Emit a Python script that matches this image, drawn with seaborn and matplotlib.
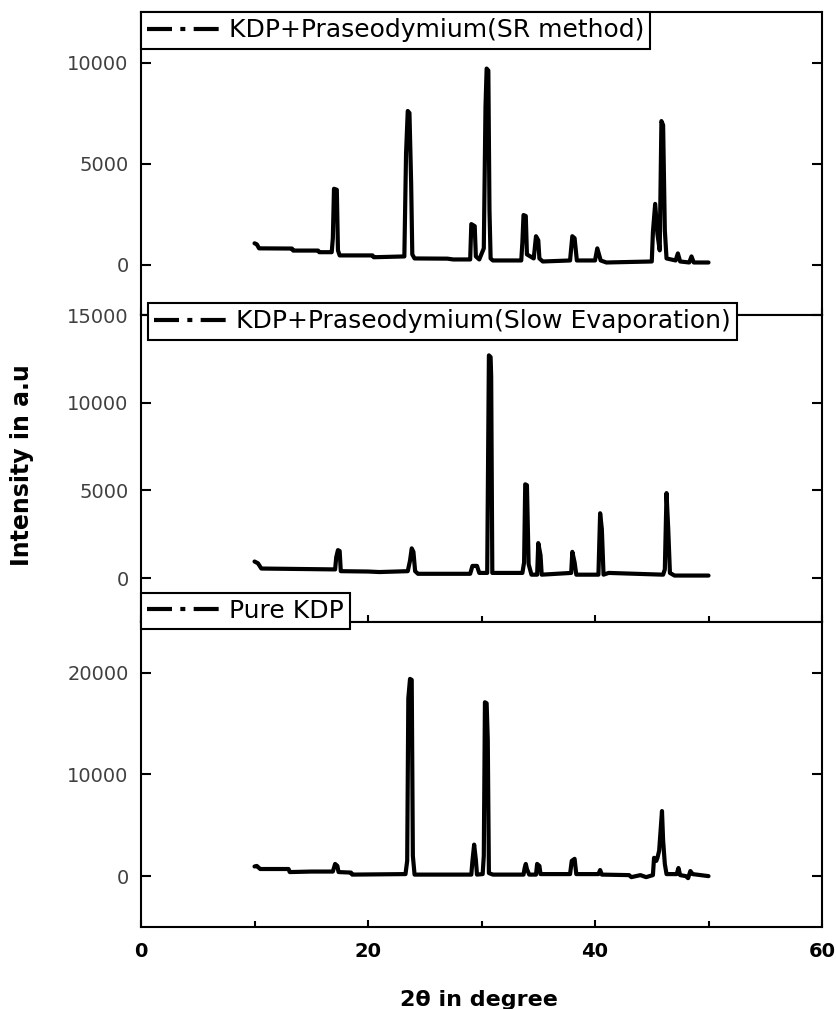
import matplotlib.pyplot as plt
import seaborn as sns
from matplotlib.lines import Line2D
from matplotlib.ticker import MultipleLocator

# --- XRD patterns (2theta in degree, intensity in a.u) ---
sr_theta = [10.0, 10.2, 10.4, 13.3, 13.4, 15.6, 15.7, 16.8, 16.9, 17.0, 17.25,
            17.35, 17.5, 20.4, 20.5, 23.2, 23.35, 23.5, 23.65, 23.8, 23.9, 24.1,
            27.0, 27.5, 29.0, 29.1, 29.4, 29.5, 29.8, 30.2, 30.35, 30.45, 30.6,
            30.7, 30.8, 31.0, 33.5, 33.6, 33.7, 33.9, 34.0, 34.6, 34.8, 35.0,
            35.1, 35.4, 37.8, 38.0, 38.2, 38.4, 40.0, 40.2, 40.5, 41.0, 45.0,
            45.1, 45.3, 45.5, 45.7, 45.85, 46.0, 46.15, 46.3, 47.1, 47.3, 47.5,
            48.3, 48.5, 48.7, 50.0]
sr_int = [1050, 1000, 800, 790, 690, 690, 610, 610, 1300, 3750, 3700,
          700, 450, 450, 360, 400, 5500, 7600, 7500, 4000, 500, 300,
          290, 250, 250, 2000, 1900, 400, 250, 800, 7800, 9700, 9600,
          2700, 300, 200, 200, 1100, 2450, 2400, 500, 300, 1400, 1200,
          300, 150, 200, 1400, 1300, 200, 200, 800, 200, 100, 150,
          1600, 3000, 1500, 700, 7100, 6900, 1700, 300, 200, 550, 150,
          100, 400, 100, 100]

se_theta = [10.0, 10.3, 10.6, 17.1, 17.2, 17.35, 17.5, 17.6, 20.0, 21.0, 23.5,
            23.7, 23.85, 24.0, 24.15, 24.4, 29.0, 29.2, 29.6, 29.8, 30.5, 30.65,
            30.8, 30.85, 30.95, 33.6, 33.75, 33.85, 34.0, 34.15, 34.4, 34.9, 35.0,
            35.2, 35.3, 37.9, 38.0, 38.2, 38.35, 40.3, 40.45, 40.6, 40.75, 41.2,
            46.0, 46.15, 46.3, 46.45, 46.6, 47.0, 50.0]
se_int = [950, 850, 550, 500, 1200, 1600, 1550, 400, 380, 350, 400,
          1000, 1700, 1500, 400, 250, 250, 700, 700, 300, 300, 12700,
          12600, 11500, 300, 300, 900, 5350, 5300, 800, 200, 200, 2000,
          1300, 200, 300, 1500, 900, 200, 200, 3700, 2800, 200, 300,
          200, 500, 4850, 2800, 300, 150, 150]

kdp_theta = [10.0, 10.2, 10.5, 13.0, 13.1, 15.0, 16.9, 17.1, 17.3, 17.4, 18.5,
             18.6, 23.3, 23.45, 23.55, 23.7, 23.85, 23.95, 24.1, 29.1, 29.2,
             29.35, 29.5, 29.6, 30.1, 30.2, 30.3, 30.45, 30.55, 30.65, 31.0,
             33.7, 33.8, 33.9, 34.0, 34.2, 34.8, 34.9, 35.1, 35.2, 37.8, 37.95,
             38.2, 38.35, 40.3, 40.45, 40.6, 43.0, 43.2, 44.0, 44.5, 45.1, 45.2,
             45.4, 45.5, 45.65, 45.9, 46.0, 46.15, 46.3, 47.2, 47.35, 47.5, 48.0,
             48.2, 48.4, 48.6, 50.0]
kdp_int = [950, 1000, 700, 700, 400, 450, 450, 1200, 1000, 400, 350,
           150, 200, 1500, 17500, 19400, 19300, 2000, 150, 150, 1500,
           3100, 1600, 150, 200, 2000, 17100, 17000, 13400, 300, 150,
           150, 800, 1200, 700, 150, 150, 1200, 1000, 200, 200, 1500,
           1700, 200, 200, 600, 150, 100, -100, 100, -100, 100, 1800,
           1500, 1800, 2500, 6400, 3500, 1200, 200, 200, 800, 100, 0,
           -200, 500, 200, 0]

labels = ["KDP+Praseodymium(SR method)",
          "KDP+Praseodymium(Slow Evaporation)",
          "Pure KDP"]
x_ticks = [0, 20, 40, 60]
y_ticks = [[0, 5000, 10000], [0, 5000, 10000, 15000], [0, 10000, 20000]]
y_limits = [(-2500, 12500), (-2500, 15000), (-5000, 25000)]


def create_plot() -> None:
    sns.set_style("ticks")
    plt.rcParams["font.family"] = ["DejaVu Sans"]
    plt.rcParams["text.color"] = "black"

    fig = plt.figure(figsize=(8.37, 10.09), dpi=100)

    # three stacked panels, no gap between them
    rects = [
        [0.1685, 0.6878, 0.8136, 0.3003],
        [0.1685, 0.3835, 0.8136, 0.3043],
        [0.1685, 0.0813, 0.8136, 0.3023],
    ]
    # legend anchor (upper left corner) in axes coordinates
    anchors = [(0.0, 1.0), (0.0103, 1.039), (0.0, 1.095)]
    series = [(sr_theta, sr_int), (se_theta, se_int), (kdp_theta, kdp_int)]

    for i, (rect, (xs, ys)) in enumerate(zip(rects, series)):
        ax = fig.add_axes(rect)
        sns.lineplot(x=xs, y=ys, ax=ax, color="black", linewidth=3,
                     estimator=None, sort=False, legend=False)
        ax.set_xlim(0, 60)
        ax.set_ylim(*y_limits[i])
        ax.set_xticks(x_ticks)
        ax.xaxis.set_minor_locator(MultipleLocator(10))
        ax.set_yticks(y_ticks[i])
        ax.set_xlabel("")
        ax.set_ylabel("")

        for spine in ax.spines.values():
            spine.set_visible(True)
            spine.set_linewidth(1.5)
            spine.set_color("black")

        ax.tick_params(axis="both", which="both", direction="in",
                       top=False, right=True, width=1.5, color="black")
        ax.tick_params(axis="y", which="major", length=7, pad=9,
                       labelsize=14, labelcolor="#404040")
        ax.tick_params(axis="x", which="major", length=5, pad=11,
                       labelsize=14, labelcolor="black")
        ax.tick_params(axis="x", which="minor", length=4)
        ax.tick_params(axis="y", which="minor", left=False, right=False)

        if i < 2:
            ax.tick_params(axis="x", labelbottom=False)
        else:
            for lab in ax.get_xticklabels():
                lab.set_fontweight("bold")

        handle = Line2D([0], [0], color="black", linewidth=3,
                        linestyle=(0, (6, 2, 1.2, 2)))
        leg = ax.legend([handle], [labels[i]], loc="upper left",
                        bbox_to_anchor=anchors[i], borderaxespad=0,
                        fontsize=18, handlelength=3.0, handletextpad=0.25,
                        borderpad=0.25, fancybox=False, framealpha=1,
                        edgecolor="black", labelcolor="black")
        leg.get_frame().set_linewidth(1.5)

    fig.text(0.026, 0.5387, "Intensity in a.u", rotation=90, ha="center",
             va="center", fontsize=17, fontweight="bold", color="black")
    fig.text(0.5723, 0.0089, "2\u03b8 in degree", ha="center", va="center",
             fontsize=16, fontweight="bold", color="black")

    plt.savefig("out.png", dpi=100)


if __name__ == "__main__":
    create_plot()
